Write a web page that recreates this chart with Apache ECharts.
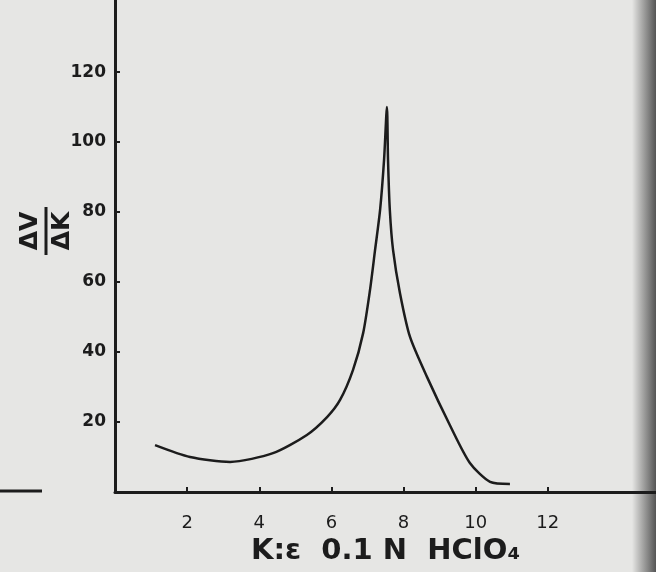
<!DOCTYPE html>
<html>
<head>
<meta charset="utf-8">
<script src="https://cdn.jsdelivr.net/npm/echarts@6/dist/echarts.min.js"></script>
<style>
  html, body { margin: 0; padding: 0; background: #e6e6e4; }
  #chart { width: 656px; height: 572px; }
</style>
</head>
<body>
<div id="chart"></div>
<script>
// readings of the hand drawn curve: volume of 0.1 N HClO4 (cc) vs dV/dK
var volume = [1.11, 2.08, 3.19, 4.38, 5.32, 5.88, 6.24, 6.60, 6.88, 7.07, 7.21, 7.35, 7.46, 7.54,
              7.57, 7.62, 7.71, 7.90, 8.18, 8.65, 9.29, 9.84, 10.40, 10.95];
var slope  = [13.4, 10.0, 8.6, 11.1, 16.3, 21.4, 26.3, 34.9, 45.4, 57.7, 69.1, 80.6, 94.9, 110,
              94.9, 80.6, 69.1, 56.9, 44.3, 32.9, 19.0, 8.3, 2.9, 2.3];
var xTicks = [2, 4, 6, 8, 10, 12];
var yTicks = [20, 40, 60, 80, 100, 120];

var ink = '#1c1c1c';
var points = volume.map(function (v, i) { return [v, slope[i]]; });

var chart = echarts.init(document.getElementById('chart'));
chart.setOption({
    backgroundColor: '#e6e6e4',
    animation: false,
    grid: { left: 115, right: 0, top: 0, bottom: 80 },
    xAxis: {
        type: 'value',
        min: 0,
        max: 15,
        interval: 2,
        splitLine: { show: false },
        axisLine: { lineStyle: { color: ink, width: 3 } },
        axisTick: { inside: true, length: 5, customValues: xTicks, lineStyle: { color: ink, width: 2 } },
        axisLabel: {
            customValues: xTicks,
            margin: 22,
            color: ink,
            fontFamily: 'DejaVu Sans',
            fontSize: 18
        },
        name: 'K:ε  0.1 N  HClO₄',
        nameLocation: 'middle',
        nameGap: 38,
        nameTextStyle: { color: ink, fontFamily: 'DejaVu Sans', fontWeight: 'bold', fontSize: 29 }
    },
    yAxis: {
        type: 'value',
        min: 0,
        max: 140.6,
        interval: 20,
        splitLine: { show: false },
        axisLine: { lineStyle: { color: ink, width: 3 } },
        axisTick: { inside: true, length: 5, customValues: yTicks, lineStyle: { color: ink, width: 2 } },
        axisLabel: {
            customValues: yTicks,
            margin: 9,
            color: ink,
            fontFamily: 'DejaVu Sans',
            fontWeight: 'bold',
            fontSize: 17
        }
    },
    graphic: [
        {
            // dV/dK written sideways as a fraction
            type: 'group',
            x: 46,
            y: 231,
            rotation: Math.PI / 2,
            children: [
                { type: 'text', x: 0, y: -16, style: { text: 'ΔV', fill: ink, font: 'bold 25px "DejaVu Sans"', align: 'center', verticalAlign: 'middle' } },
                { type: 'line', shape: { x1: -24, y1: 0, x2: 24, y2: 0 }, style: { stroke: ink, lineWidth: 3 } },
                { type: 'text', x: 0, y: 16, style: { text: 'ΔK', fill: ink, font: 'bold 25px "DejaVu Sans"', align: 'center', verticalAlign: 'middle' } }
            ]
        },
        { type: 'line', shape: { x1: 0, y1: 491, x2: 42, y2: 491 }, style: { stroke: ink, lineWidth: 3 } },
        {
            type: 'rect',
            shape: { x: 632, y: 0, width: 24, height: 572 },
            style: {
                fill: new echarts.graphic.LinearGradient(0, 0, 1, 0, [
                    { offset: 0, color: 'rgba(60,60,60,0)' },
                    { offset: 1, color: 'rgba(60,60,60,0.85)' }
                ])
            },
            silent: true
        }
    ],
    series: [
        {
            type: 'line',
            data: points,
            smooth: 0.25,
            symbol: 'none',
            lineStyle: { color: ink, width: 2.5 }
        }
    ]
});
</script>
</body>
</html>
